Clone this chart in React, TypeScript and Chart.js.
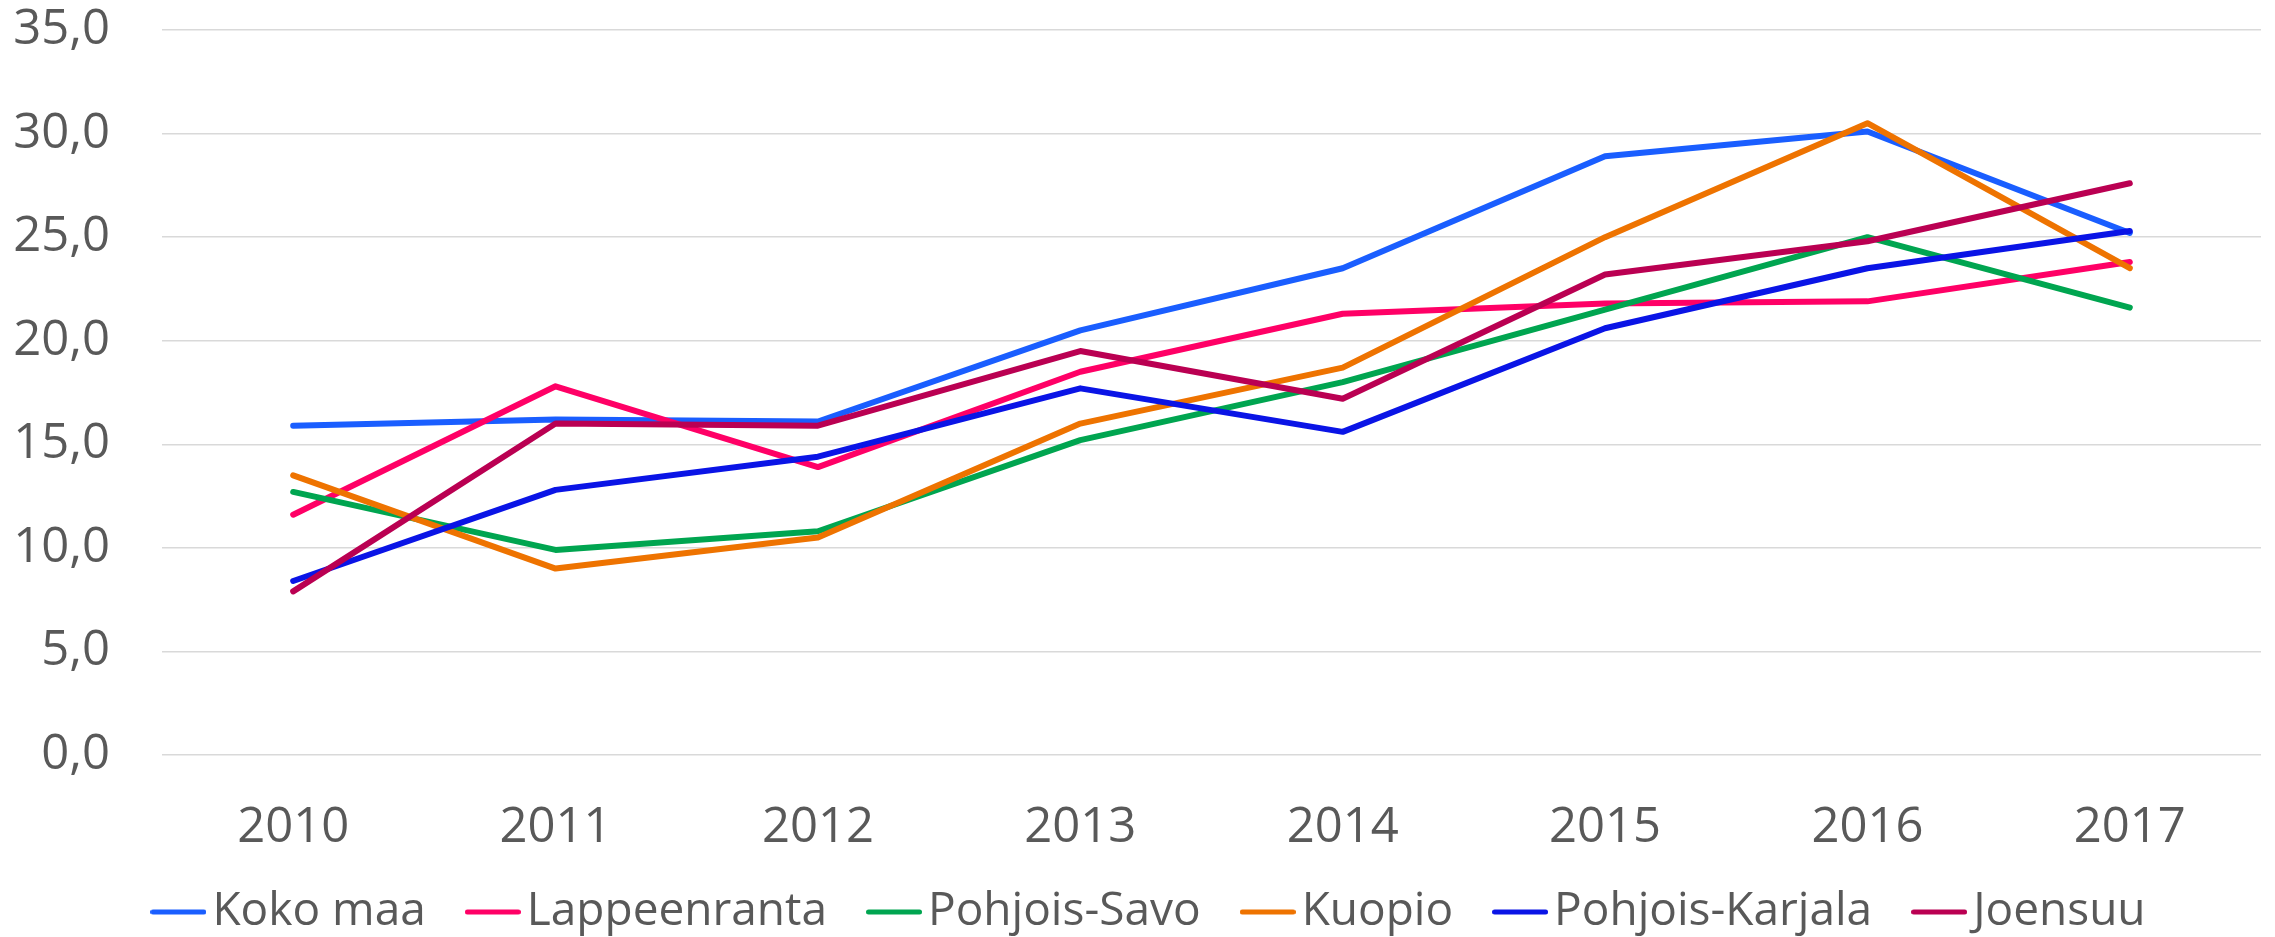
import React, { useEffect, useRef } from "react";
import { Chart, registerables } from "chart.js";

Chart.register(...registerables);

const years = ["2010", "2011", "2012", "2013", "2014", "2015", "2016", "2017"];
const seriesNames = ["Koko maa", "Lappeenranta", "Pohjois-Savo", "Kuopio", "Pohjois-Karjala", "Joensuu"];
const kokoMaa = [15.9, 16.2, 16.1, 20.5, 23.5, 28.9, 30.1, 25.2];
const lappeenranta = [11.6, 17.8, 13.9, 18.5, 21.3, 21.8, 21.9, 23.8];
const pohjoisSavo = [12.7, 9.9, 10.8, 15.2, 18.0, 21.5, 25.0, 21.6];
const kuopio = [13.5, 9.0, 10.5, 16.0, 18.7, 25.0, 30.5, 23.5];
const pohjoisKarjala = [8.4, 12.8, 14.4, 17.7, 15.6, 20.6, 23.5, 25.3];
const joensuu = [7.9, 16.0, 15.9, 19.5, 17.2, 23.2, 24.8, 27.6];
const seriesColors = ["#1A5EFF", "#FF0066", "#00A550", "#EE7300", "#0A14E6", "#BA0052"];
const yTicks = [0, 5, 10, 15, 20, 25, 30, 35];

const FONT = "'Open Sans', 'Noto Sans', sans-serif";
const TEXT = "#595959";

function lineSwatch(color: string): HTMLCanvasElement {
  const c = document.createElement("canvas");
  c.width = 56;
  c.height = 6;
  const ctx = c.getContext("2d")!;
  ctx.strokeStyle = color;
  ctx.lineWidth = 5;
  ctx.lineCap = "round";
  ctx.beginPath();
  ctx.moveTo(2.5, 3);
  ctx.lineTo(53.5, 3);
  ctx.stroke();
  return c;
}

const legendShift = {
  id: "legendShift",
  afterLayout(chart: any) {
    const l = chart.legend;
    if (!l) return;
    l.left += 26;
    l.right += 26;
    l.top -= 32;
    l.bottom -= 32;
  },
};

export default function App() {
  const ref = useRef<HTMLCanvasElement | null>(null);

  useEffect(() => {
    if (!ref.current) return;
    const values = [kokoMaa, lappeenranta, pohjoisSavo, kuopio, pohjoisKarjala, joensuu];
    const swatches = seriesColors.map(lineSwatch);
    const chart = new Chart(ref.current, {
      type: "line",
      data: {
        labels: years,
        datasets: seriesNames.map((name, i) => ({
          label: name,
          data: values[i],
          borderColor: seriesColors[i],
          backgroundColor: seriesColors[i],
          borderWidth: 6,
          pointRadius: 0,
          tension: 0,
          borderCapStyle: "round" as const,
          borderJoinStyle: "round" as const,
          order: seriesNames.length - i,
        })),
      },
      plugins: [legendShift],
      options: {
        animation: false,
        responsive: false,
        devicePixelRatio: 1,
        layout: { padding: { top: 30, right: 14, left: 0, bottom: -40 } },
        plugins: {
          tooltip: { enabled: false },
          legend: {
            position: "bottom",
            labels: {
              usePointStyle: true,
              boxWidth: 22,
              padding: 56,
              color: TEXT,
              font: { family: FONT, size: 46 },
              generateLabels: (ch: any) =>
                ch.data.datasets.map((ds: any, i: number) => ({
                  text: ds.label,
                  fillStyle: seriesColors[i],
                  strokeStyle: seriesColors[i],
                  lineWidth: 0,
                  pointStyle: swatches[i],
                  hidden: false,
                  datasetIndex: i,
                  fontColor: TEXT,
                })),
            },
          },
        },
        scales: {
          x: {
            offset: true,
            grid: { display: false },
            border: { display: false },
            afterFit: (scale: any) => {
              scale.height = 110;
            },
            ticks: {
              color: TEXT,
              font: { family: FONT, size: 49 },
              padding: 36,
              maxRotation: 0,
            },
          },
          y: {
            min: 0,
            max: 35,
            afterFit: (scale: any) => {
              scale.width = 162;
              scale.paddingTop = 0;
              scale.paddingBottom = 0;
            },
            afterBuildTicks: (scale: any) => {
              scale.ticks = yTicks.map((v) => ({ value: v }));
            },
            grid: { color: "#D9D9D9", lineWidth: 1.5, drawTicks: false },
            border: { display: false },
            ticks: {
              color: TEXT,
              font: { family: FONT, size: 49 },
              padding: 52,
              callback: (v: any) => Number(v).toFixed(1).replace(".", ","),
            },
          },
        },
      },
    });
    return () => chart.destroy();
  }, []);

  return (
    <div style={{ position: "fixed", left: 0, top: 0, width: 2275, height: 937, background: "#fff" }}>
      <canvas ref={ref} width={2275} height={937} style={{ display: "block", width: 2275, height: 937 }} />
    </div>
  );
}
